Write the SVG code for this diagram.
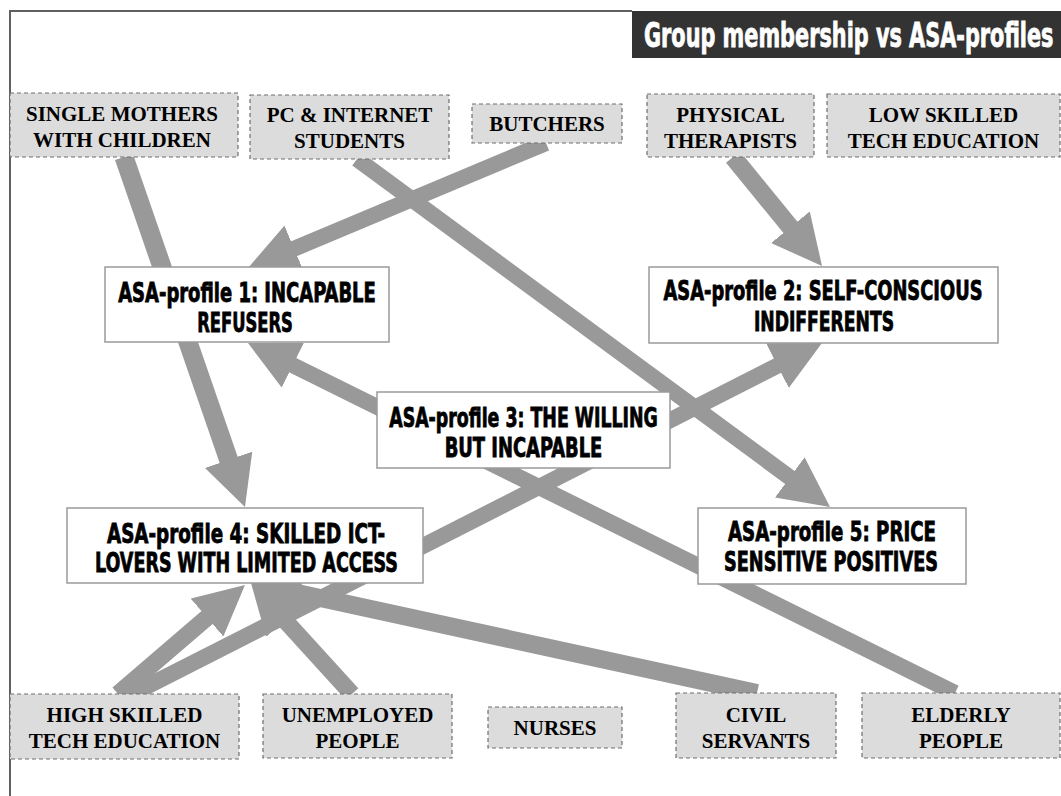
<svg xmlns="http://www.w3.org/2000/svg" width="1061" height="796" viewBox="0 0 1061 796">
<defs>
<style>
.grp rect{fill:#dcdcdc;stroke:#6e6e6e;stroke-width:1.2;stroke-dasharray:4 3}
.grp text{font-family:"Liberation Serif","Times New Roman",serif;font-weight:bold;font-size:21px;fill:#000;text-anchor:middle}
.prof rect{fill:#fff;stroke:#9a9a9a;stroke-width:1.5}
.prof text{font-family:"DejaVu Sans Condensed","DejaVu Sans",sans-serif;font-weight:bold;font-size:27px;fill:#000;stroke:#000;stroke-width:0.8;text-anchor:middle}
.conn line{stroke:#999;fill:none;marker-end:url(#ah)}
</style>
<marker id="ah" markerUnits="userSpaceOnUse" viewBox="0 0 50 50" markerWidth="50" markerHeight="50" refX="25" refY="25" orient="auto">
<path d="M0,0 L50,25 L0,50 z" fill="#999"/>
</marker>
</defs>
<rect width="1061" height="796" fill="#fff"/>
<g id="frame">
<path d="M10,796 V11 H632" fill="none" stroke="#606060" stroke-width="2"/>
<rect x="632" y="11" width="429" height="47" fill="#333"/>
<text transform="translate(644,47) scale(0.7,1)" x="0" y="0" font-family="DejaVu Sans Condensed, DejaVu Sans, sans-serif" font-weight="bold" font-size="33" fill="#fff" stroke="#fff" stroke-width="0.8" textLength="585" lengthAdjust="spacingAndGlyphs">Group membership vs ASA-profiles</text>
</g>
<g id="connectors" class="conn">
<line x1="124" y1="157" x2="236.8" y2="483.4" stroke-width="19"/>
<line x1="357" y1="159" x2="809.9" y2="492.2" stroke-width="16"/>
<line x1="546" y1="143" x2="271.1" y2="258.3" stroke-width="16"/>
<line x1="733" y1="157" x2="806.2" y2="246.6" stroke-width="18"/>
<line x1="955" y1="693" x2="270.4" y2="354.1" stroke-width="16"/>
<line x1="132" y1="694" x2="799.7" y2="354.3" stroke-width="16"/>
<line x1="118" y1="694" x2="226.0" y2="601.3" stroke-width="17"/>
<line x1="352" y1="694" x2="267.8" y2="601.5" stroke-width="17"/>
<line x1="757" y1="693" x2="275.4" y2="588.3" stroke-width="18"/>
</g>
<g id="single-mothers" class="grp"><rect x="10" y="93" width="228" height="64"/><text x="122" y="121">SINGLE MOTHERS</text><text x="122" y="147">WITH CHILDREN</text></g>
<g id="pc-students" class="grp"><rect x="250" y="95" width="199" height="64"/><text x="349.5" y="122">PC &amp; INTERNET</text><text x="349.5" y="148">STUDENTS</text></g>
<g id="butchers" class="grp"><rect x="472" y="104" width="150" height="39"/><text x="547" y="131">BUTCHERS</text></g>
<g id="physical-therapists" class="grp"><rect x="647" y="94" width="167" height="63"/><text x="730.5" y="122">PHYSICAL</text><text x="730.5" y="148">THERAPISTS</text></g>
<g id="low-skilled" class="grp"><rect x="827" y="94" width="233" height="63"/><text x="943.5" y="122">LOW SKILLED</text><text x="943.5" y="148">TECH EDUCATION</text></g>
<g id="high-skilled" class="grp"><rect x="10" y="694" width="229" height="65"/><text x="124.5" y="722">HIGH SKILLED</text><text x="124.5" y="748">TECH EDUCATION</text></g>
<g id="unemployed" class="grp"><rect x="263" y="694" width="189" height="64"/><text x="357.5" y="722">UNEMPLOYED</text><text x="357.5" y="748">PEOPLE</text></g>
<g id="nurses" class="grp"><rect x="488" y="707" width="134" height="41"/><text x="555" y="735">NURSES</text></g>
<g id="civil-servants" class="grp"><rect x="676" y="693" width="160" height="65"/><text x="756" y="722">CIVIL</text><text x="756" y="748">SERVANTS</text></g>
<g id="elderly" class="grp"><rect x="862" y="693" width="198" height="65"/><text x="961" y="722">ELDERLY</text><text x="961" y="748">PEOPLE</text></g>
<g id="profile-1" class="prof"><rect x="105" y="267" width="284" height="75"/><text transform="translate(247,302) scale(0.73,1)" textLength="353" lengthAdjust="spacingAndGlyphs">ASA-profile 1: INCAPABLE</text><text transform="translate(245,332) scale(0.73,1)" textLength="131" lengthAdjust="spacingAndGlyphs">REFUSERS</text></g>
<g id="profile-2" class="prof"><rect x="649" y="267" width="349" height="76"/><text transform="translate(823,300) scale(0.73,1)" textLength="437" lengthAdjust="spacingAndGlyphs">ASA-profile 2: SELF-CONSCIOUS</text><text transform="translate(824,331) scale(0.73,1)" textLength="192" lengthAdjust="spacingAndGlyphs">INDIFFERENTS</text></g>
<g id="profile-3" class="prof"><rect x="377" y="392" width="293" height="76"/><text transform="translate(523.5,427) scale(0.73,1)" textLength="368" lengthAdjust="spacingAndGlyphs">ASA-profile 3: THE WILLING</text><text transform="translate(523.5,457) scale(0.73,1)" textLength="216" lengthAdjust="spacingAndGlyphs">BUT INCAPABLE</text></g>
<g id="profile-4" class="prof"><rect x="67" y="508" width="356" height="75"/><text transform="translate(246,543) scale(0.73,1)" textLength="381" lengthAdjust="spacingAndGlyphs">ASA-profile 4: SKILLED ICT-</text><text transform="translate(246.5,572) scale(0.73,1)" textLength="415" lengthAdjust="spacingAndGlyphs">LOVERS WITH LIMITED ACCESS</text></g>
<g id="profile-5" class="prof"><rect x="698" y="508" width="268" height="76"/><text transform="translate(832,541) scale(0.73,1)" textLength="285" lengthAdjust="spacingAndGlyphs">ASA-profile 5: PRICE</text><text transform="translate(831,571) scale(0.73,1)" textLength="293" lengthAdjust="spacingAndGlyphs">SENSITIVE POSITIVES</text></g>
</svg>
